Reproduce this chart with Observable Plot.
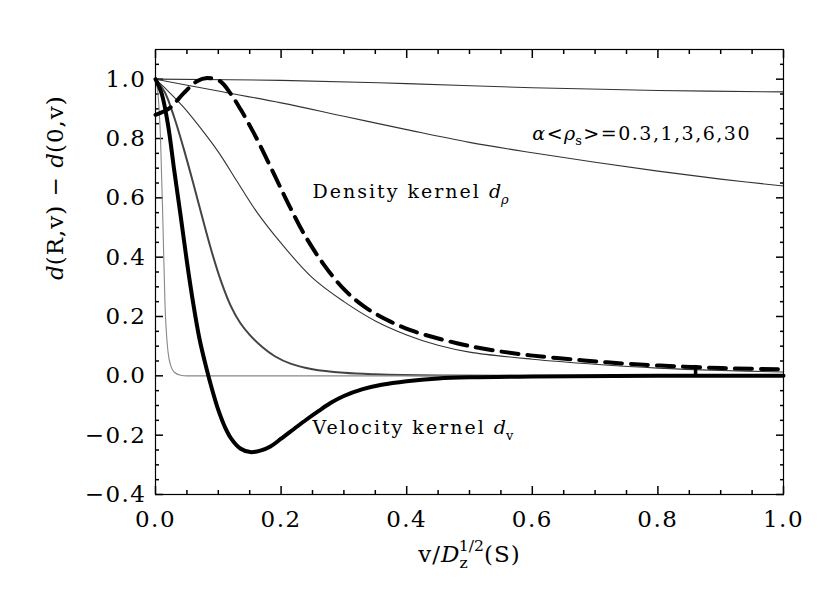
<!DOCTYPE html>
<html><head><meta charset="utf-8">
<script src="https://cdn.jsdelivr.net/npm/d3@7"></script>
<script src="https://cdn.jsdelivr.net/npm/@observablehq/plot@0.6"></script>
<style>body{margin:0;background:#fff;}</style>
</head><body><div id="chart"></div>
<script>
// ---- tick values ----
const xMajor = [0, 0.2, 0.4, 0.6, 0.8, 1.0];
const yMajor = [-0.4, -0.2, 0, 0.2, 0.4, 0.6, 0.8, 1.0];
const xMinor = [0.05,0.1,0.15,0.25,0.3,0.35,0.45,0.5,0.55,0.65,0.7,0.75,0.85,0.9,0.95];
const yMinor = [-0.35,-0.3,-0.25,-0.15,-0.1,-0.05,0.05,0.1,0.15,0.25,0.3,0.35,0.45,0.5,0.55,0.65,0.7,0.75,0.85,0.9,0.95,1.05];

// ---- series: [v, d] ----
const k03 = [[0,1],[0.2,0.996],[0.4,0.985],[0.6,0.971],[0.8,0.962],[1.0,0.957]];
const k1 = [[0,1],[0.1,0.96],[0.2,0.92],[0.3,0.875],[0.4,0.83],[0.5,0.787],[0.6,0.752],[0.7,0.72],[0.8,0.69],[0.9,0.663],[1.0,0.64]];
const k3 = [[0,1],[0.02,0.96],[0.045,0.905],[0.07,0.84],[0.1,0.755],[0.13,0.655],[0.16,0.556],[0.2,0.447],[0.25,0.33],[0.3,0.25],[0.35,0.185],[0.4,0.138],[0.45,0.103],[0.5,0.08],[0.6,0.056],[0.7,0.039],[0.8,0.026],[0.9,0.018],[1.0,0.013]];
const k6 = [[0,1],[0.015,0.955],[0.03,0.87],[0.045,0.765],[0.06,0.65],[0.075,0.53],[0.09,0.415],[0.105,0.315],[0.12,0.235],[0.135,0.178],[0.15,0.138],[0.17,0.097],[0.19,0.066],[0.215,0.041],[0.25,0.022],[0.3,0.01],[0.35,0.005],[0.45,0.001],[1.0,0]];
const k30 = [[0,1],[0.004,0.95],[0.008,0.8],[0.012,0.5],[0.015,0.25],[0.02,0.08],[0.025,0.03],[0.03,0.012],[0.04,0.002],[0.05,0],[1.0,0]];
const velocity = [[0,1],[0.01,0.95],[0.02,0.845],[0.03,0.69],[0.04,0.54],[0.05,0.385],[0.06,0.245],[0.07,0.125],[0.08,0.035],[0.09,-0.045],[0.1,-0.115],[0.11,-0.17],[0.12,-0.21],[0.135,-0.245],[0.151,-0.257],[0.167,-0.252],[0.183,-0.238],[0.2,-0.212],[0.22,-0.18],[0.24,-0.148],[0.26,-0.118],[0.28,-0.09],[0.3,-0.068],[0.33,-0.045],[0.36,-0.03],[0.4,-0.018],[0.45,-0.009],[0.5,-0.005],[0.6,-0.002],[0.8,0],[1.0,0]];
const density = [[0,0.88],[0.012,0.89],[0.024,0.905],[0.045,0.953],[0.066,0.993],[0.082,1.004],[0.103,0.993],[0.119,0.953],[0.135,0.9],[0.151,0.84],[0.162,0.796],[0.183,0.705],[0.2,0.63],[0.215,0.565],[0.236,0.48],[0.268,0.375],[0.3,0.292],[0.332,0.234],[0.369,0.188],[0.406,0.154],[0.443,0.13],[0.48,0.11],[0.523,0.091],[0.597,0.069],[0.682,0.052],[0.756,0.04],[0.841,0.031],[0.921,0.025],[1.0,0.022]];
const glitch = [[0.86, 0.0, 0.035]];

// ---- annotation positions ----
const alphaLabel = [[0.6, 0.817]];
const densityLabel = [[0.25, 0.62]];
const velocityLabel = [[0.25, -0.176]];

const W = 830, H = 593, ML = 155, MR = 47, MT = 49, MB = 99;
const X0 = 0, X1 = 1, Y0 = -0.4, Y1 = 1.1;
const FONT = "DejaVu Serif";
const line = (data, opts) => Plot.line(data, {x: d => d[0], y: d => d[1], curve: "catmull-rom", ...opts});
// tick-only axes (no labels): negative size points the ticks into the frame
const tk = {stroke: "#000", strokeWidth: 1.5, fill: "none", label: null};
const ticksX = (anchor, ticks, size) => Plot.axisX({anchor, ticks, tickSize: -size, ...tk});
const ticksY = (anchor, ticks, size) => Plot.axisY({anchor, ticks, tickSize: -size, ...tk});

const plot = Plot.plot({
  width: W, height: H,
  marginLeft: ML, marginRight: MR, marginTop: MT, marginBottom: MB,
  x: {domain: [X0, X1]}, y: {domain: [Y0, Y1]},
  style: {fontFamily: FONT, background: "#fff", color: "#000"},
  marks: [
    ticksX("bottom", xMajor, 8), ticksX("bottom", xMinor, 4),
    ticksX("top", xMajor, 8), ticksX("top", xMinor, 4),
    ticksY("left", yMajor, 8), ticksY("left", yMinor, 4),
    ticksY("right", yMajor, 8), ticksY("right", yMinor, 4),
    // tick labels
    Plot.axisX({anchor: "bottom", ticks: xMajor, tickSize: 0, tickPadding: 16, tickFormat: d3.format(".1f"), fontSize: 23, label: null}),
    Plot.axisY({anchor: "left", ticks: yMajor, tickSize: 0, tickPadding: 9, tickFormat: d3.format(".1f"), fontSize: 23, label: null}),
    // curves
    line(k03, {stroke: "#333", strokeWidth: 1.1}),
    line(k1, {stroke: "#333", strokeWidth: 1.1}),
    line(k3, {stroke: "#333", strokeWidth: 1.1}),
    line(k6, {stroke: "#444", strokeWidth: 2}),
    Plot.line(k30, {x: d => d[0], y: d => d[1], curve: "monotone-x", stroke: "#888", strokeWidth: 1.1}),
    line(density, {stroke: "#000", strokeWidth: 4, strokeDasharray: "17,9"}),
    Plot.ruleX(glitch, {x: d => d[0], y1: d => d[1], y2: d => d[2], stroke: "#000", strokeWidth: 3.5}),
    line(velocity, {stroke: "#000", strokeWidth: 4}),
    Plot.frame({stroke: "#000", strokeWidth: 1.2}),
    // annotations
    Plot.text(alphaLabel, {x: d => d[0], y: d => d[1], text: () => "α<ρs>=0.3,1,3,6,30", textAnchor: "start", fontSize: 19}),
    Plot.text(densityLabel, {x: d => d[0], y: d => d[1], text: () => "Density kernel dρ", textAnchor: "start", fontSize: 19}),
    Plot.text(velocityLabel, {x: d => d[0], y: d => d[1], text: () => "Velocity kernel dv", textAnchor: "start", fontSize: 19}),
    // axis titles
    Plot.text([0], {frameAnchor: "bottom", dy: 67, text: () => "v/Dz1/2(S)", fontSize: 23}),
    Plot.text([0], {frameAnchor: "left", dx: -100, dy: 8, rotate: -90, text: () => "d(R,v) − d(0,v)", fontSize: 23})
  ]
});
document.getElementById("chart").appendChild(plot);

// tick label letter spacing
plot.querySelectorAll('g[aria-label="x-axis tick label"] text, g[aria-label="y-axis tick label"] text')
  .forEach(t => t.setAttribute("letter-spacing", "1.5"));

// ---- rich text (italics, sub/superscripts) ----
function rich(str, parts, fs) {
  const els = [...plot.querySelectorAll("text")].filter(e => e.textContent === str);
  for (const el of els) {
    el.textContent = "";
    let off = 0;
    for (const p of parts) {
      const t = document.createElementNS("http://www.w3.org/2000/svg", "tspan");
      t.textContent = p.t;
      const target = p.sub ? 0.3 * fs : p.sup ? -0.45 * fs : 0;
      if (target !== off) t.setAttribute("dy", target - off);
      off = target;
      if (p.sub || p.sup) t.setAttribute("font-size", 0.68 * fs);
      if (p.i) t.setAttribute("font-style", "italic");
      if (p.dx) t.setAttribute("dx", p.dx);
      if (p.ls != null) t.setAttribute("letter-spacing", p.ls);
      el.appendChild(t);
    }
  }
}
rich("α<ρs>=0.3,1,3,6,30", [{t: "α", i: 1, ls: 1.5}, {t: "<", ls: 1.5}, {t: "ρ", i: 1}, {t: "s", sub: 1, ls: 1.5}, {t: ">=0.3,1,3,6,30", ls: 1.5}], 19);
rich("Density kernel dρ", [{t: "Density kernel ", ls: 2}, {t: "d", i: 1}, {t: "ρ", i: 1, sub: 1}], 19);
rich("Velocity kernel dv", [{t: "Velocity kernel ", ls: 2}, {t: "d", i: 1}, {t: "v", sub: 1}], 19);
rich("v/Dz1/2(S)", [{t: "v/", ls: 1}, {t: "D", i: 1}, {t: "z", sub: 1}, {t: "1/2", sup: 1, dx: -9}, {t: "(S)", ls: 1}], 23);
rich("d(R,v) − d(0,v)", [{t: "d", i: 1}, {t: "(R,v) − ", ls: 1}, {t: "d", i: 1}, {t: "(0,v)", ls: 1}], 23);
</script>
</body></html>
